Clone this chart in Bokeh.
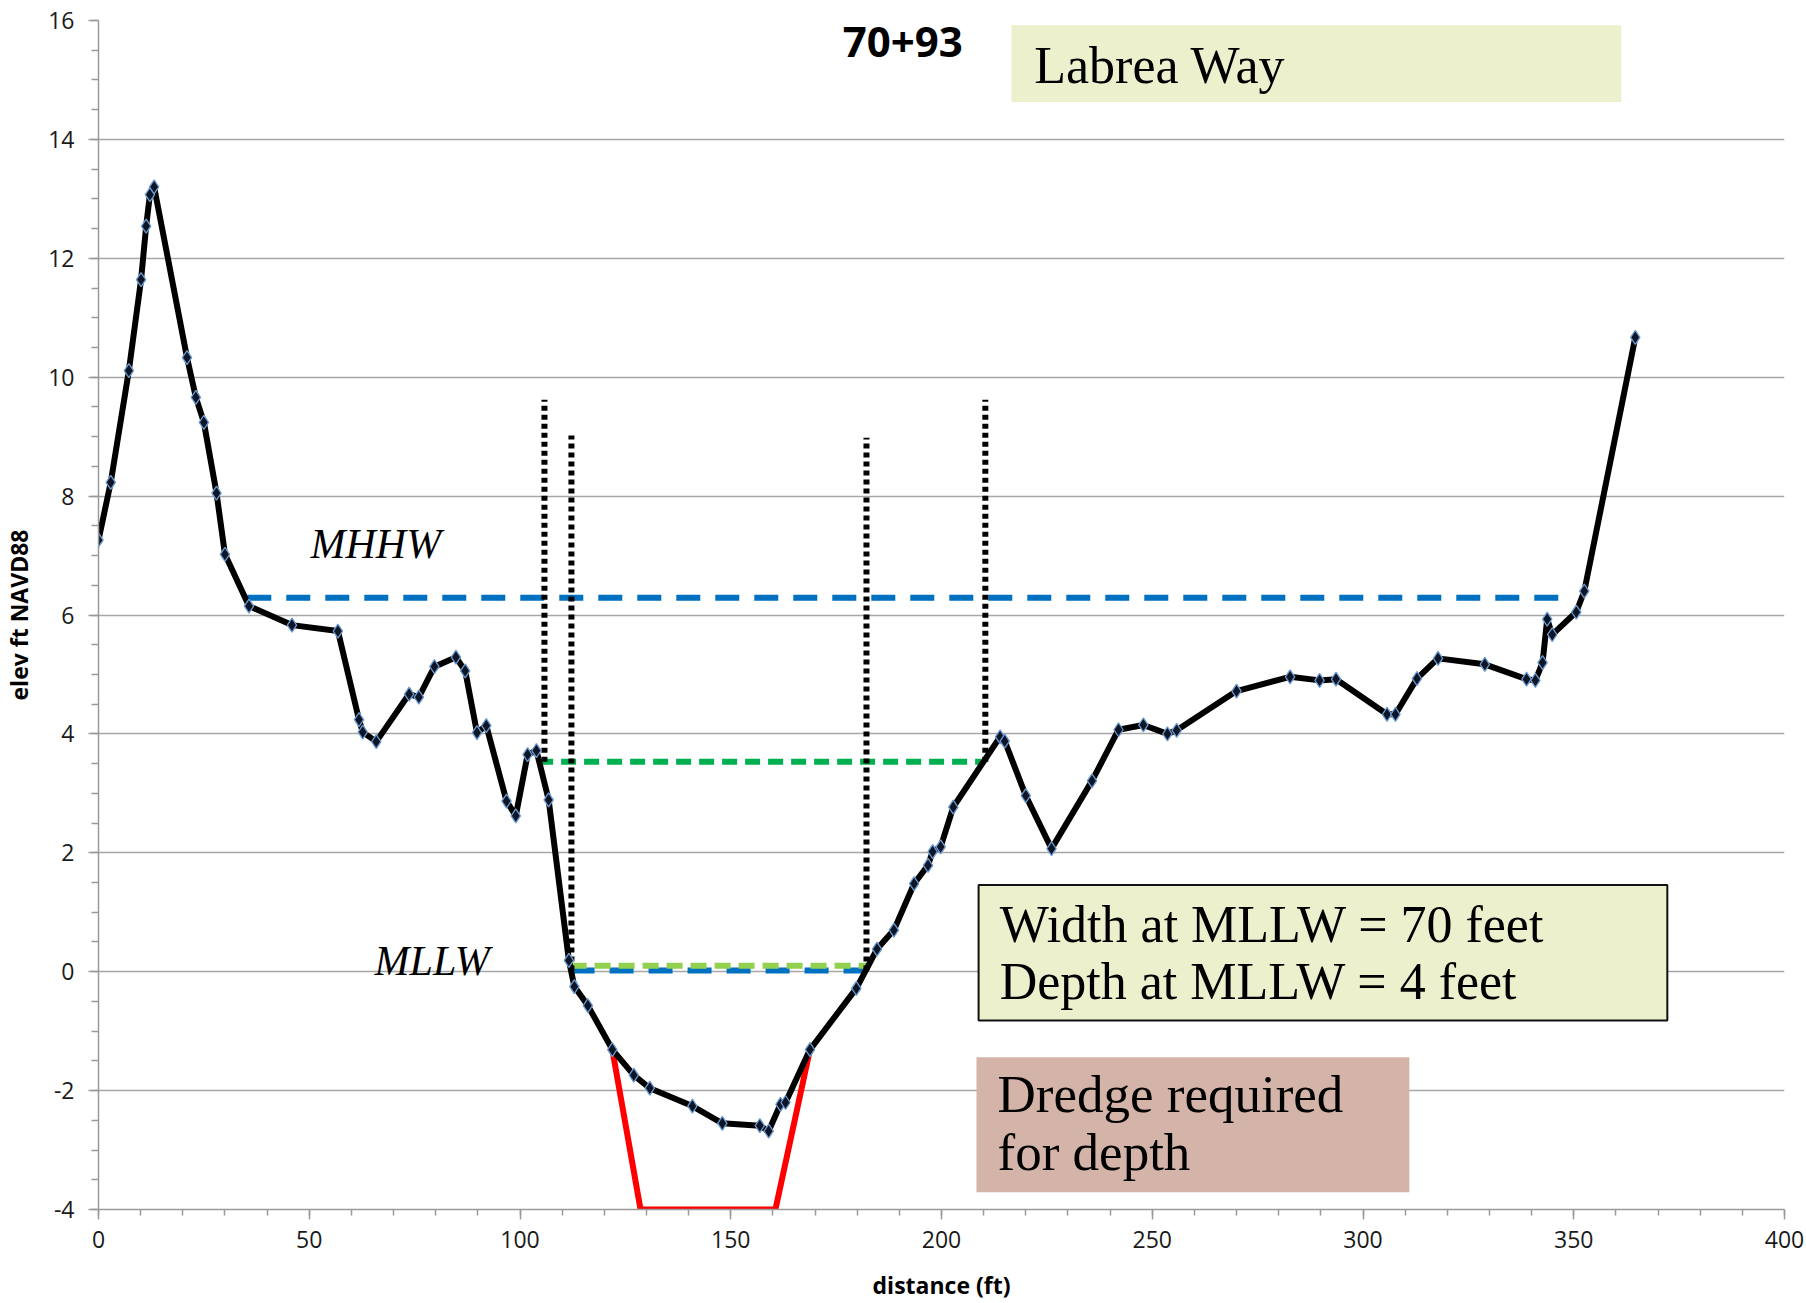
from bokeh.plotting import figure
from bokeh.models import Range1d, SingleIntervalTicker, BoxAnnotation, Label, PrintfTickFormatter
from bokeh.embed import file_html
from bokeh.resources import INLINE

# ---- data ----
dist = [0.0, 2.9, 7.2, 10.1, 11.3, 12.2, 13.2, 21.0, 23.1, 25.0, 28.0, 30.0, 35.7, 45.9, 56.8,
        61.8, 62.7, 65.9, 73.7, 76.0, 79.7, 84.8, 87.0, 89.8, 92.0, 96.8, 99.0, 101.8, 103.9,
        106.8, 111.6, 112.9, 116.1, 121.9, 127.0, 130.8, 140.9, 148.0, 156.9, 159.0, 161.8,
        163.0, 168.8, 179.8, 184.7, 188.7, 193.5, 196.8, 197.9, 199.8, 202.8, 213.9, 215.0,
        220.0, 226.1, 235.7, 242.0, 247.9, 253.6, 255.8, 270.0, 282.7, 289.7, 293.6, 305.7,
        307.7, 312.8, 317.8, 328.9, 338.8, 340.9, 342.6, 343.7, 344.9, 350.6, 352.5, 364.6]
elev = [7.26, 8.23, 10.11, 11.64, 12.54, 13.07, 13.2, 10.33, 9.66, 9.24, 8.05, 7.02, 6.15, 5.83,
        5.73, 4.24, 4.03, 3.87, 4.67, 4.62, 5.13, 5.29, 5.06, 4.02, 4.14, 2.87, 2.62, 3.65, 3.72,
        2.89, 0.19, -0.25, -0.57, -1.31, -1.74, -1.96, -2.26, -2.55, -2.59, -2.68, -2.23, -2.20,
        -1.31, -0.28, 0.38, 0.70, 1.48, 1.79, 2.02, 2.10, 2.77, 3.95, 3.88, 2.96, 2.07, 3.21,
        4.07, 4.15, 4.00, 4.06, 4.72, 4.96, 4.90, 4.92, 4.33, 4.33, 4.93, 5.27, 5.17, 4.92,
        4.90, 5.20, 5.93, 5.67, 6.05, 6.40, 10.67]

mhhw_x = [35.3, 348.4]
mhhw_elev = 6.29
mllw_x = [112.0, 182.3]
mllw_elev = 0.02
width_x = [112.0, 182.3]
width_elev = 0.10
bank_x = [104.3, 209.5]
bank_elev = 3.53
dotted_x = [105.8, 112.2, 182.2, 210.4]
dotted_bottom = [3.53, 0.02, 0.02, 3.53]
dotted_top = [9.62, 9.02, 8.98, 9.62]
dredge_x = [121.9, 128.6, 160.6, 168.8]
dredge_elev = [-1.31, -4.0, -4.0, -1.31]

x_ticks_interval = 50
y_ticks_interval = 2

# ---- figure ----
p = figure(width=1806, height=1303, x_range=Range1d(0, 400), y_range=Range1d(-4, 16),
           output_backend="svg", toolbar_location=None,
           min_border_left=98, min_border_right=22, min_border_top=20, min_border_bottom=89)
p.outline_line_color = None
p.background_fill_color = "white"
p.border_fill_color = "white"
p.xgrid.visible = False
p.ygrid.grid_line_color = "#A6A6A6"
p.ygrid.grid_line_width = 1.4

p.xaxis.ticker = SingleIntervalTicker(interval=x_ticks_interval, num_minor_ticks=5)
p.yaxis.ticker = SingleIntervalTicker(interval=y_ticks_interval, num_minor_ticks=4)
p.xaxis.formatter = PrintfTickFormatter(format="%d")
p.yaxis.formatter = PrintfTickFormatter(format="%d")
for ax in (p.xaxis, p.yaxis):
    ax.axis_line_color = "#9A9A9A"
    ax.axis_line_width = 1.5
    ax.major_tick_line_color = "#9A9A9A"
    ax.minor_tick_line_color = "#9A9A9A"
    ax.major_tick_line_width = 1.5
    ax.minor_tick_line_width = 1.5
    ax.major_tick_in = 0
    ax.minor_tick_in = 0
    ax.major_tick_out = 10
    ax.major_label_text_font = "Open Sans"
    ax.major_label_text_font_size = "23px"
    ax.major_label_text_color = "#1a1a1a"
    ax.axis_label_text_font = "Open Sans"
    ax.axis_label_text_font_style = "bold"
    ax.axis_label_text_font_size = "23px"
    ax.axis_label_text_color = "#000000"
p.xaxis.minor_tick_out = 6
p.yaxis.minor_tick_out = 7
p.xaxis.major_label_standoff = 11
p.yaxis.major_label_standoff = 14
p.xaxis.axis_label = "distance (ft)"
p.yaxis.axis_label = "elev ft NAVD88"
p.xaxis.axis_label_standoff = 18
p.yaxis.axis_label_standoff = 10

# ---- reference lines ----
p.line(dredge_x, dredge_elev, line_color="#FF0000", line_width=6, line_join="round")
p.line(mllw_x, [mllw_elev] * 2, line_color="#0070C0", line_width=6, line_dash="24 15")
p.line(width_x, [width_elev] * 2, line_color="#92D050", line_width=6, line_dash="16 8")
p.line(bank_x, [bank_elev] * 2, line_color="#00B050", line_width=6, line_dash="15 8")
p.line(mhhw_x, [mhhw_elev] * 2, line_color="#0070C0", line_width=6, line_dash="24 15")
p.segment(x0=dotted_x, y0=dotted_bottom, x1=dotted_x, y1=dotted_top,
          line_color="black", line_width=6, line_dash="5 4")

# ---- profile ----
p.line(dist, elev, line_color="black", line_width=6, line_join="round")
p.scatter(dist, elev, marker="diamond", size=14, fill_color="#0D1526",
          line_color="#6C9BD2", line_width=1.3)

# ---- boxes ----
p.add_layout(BoxAnnotation(left=216.6, right=361.3, top=15.92, bottom=14.63,
                           fill_color="#ECF0CD", fill_alpha=1, line_color=None))
p.add_layout(BoxAnnotation(left=208.8, right=372.2, top=1.46, bottom=-0.82,
                           fill_color="#ECF0CD", fill_alpha=1, line_color="#111111",
                           line_alpha=1, line_width=2))
p.add_layout(BoxAnnotation(left=208.3, right=311.0, top=-1.44, bottom=-3.71,
                           fill_color="#D4B4A8", fill_alpha=1, line_color=None))

serif = "Liberation Serif"
def lab(x, y, text, size, font=serif, style="normal", align="left"):
    p.add_layout(Label(x=x, y=y, text=text, text_font=font, text_font_size=size,
                       text_font_style=style, text_align=align,
                       text_baseline="alphabetic", text_color="black"))

lab(190.8, 15.64, "70+93", "42px", font="Open Sans", style="bold", align="center")
lab(222.0, 15.24, "Labrea Way", "52px")
lab(213.8, 0.80, "Width at MLLW = 70 feet", "52px")
lab(213.8, -0.16, "Depth at MLLW = 4 feet", "52px")
lab(213.3, -2.06, "Dredge required", "53px")
lab(213.3, -3.03, "for depth", "53px")
lab(50.3, 7.19, "MHHW", "42px", style="italic")
lab(65.5, 0.18, "MLLW", "42px", style="italic")

open("out.html", "w").write(file_html(p, INLINE))
